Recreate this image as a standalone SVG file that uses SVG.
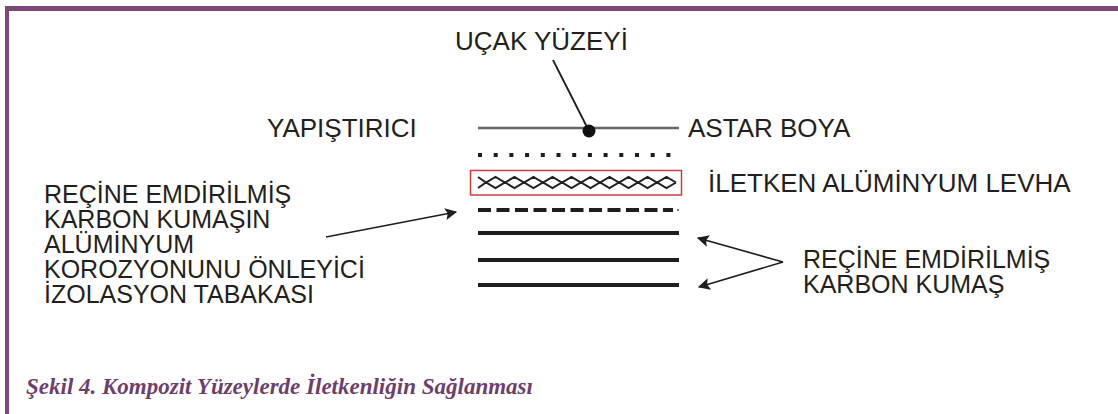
<svg xmlns="http://www.w3.org/2000/svg" width="1118" height="414" viewBox="0 0 1118 414">
<style>
.t{font-family:"Liberation Sans",Arial,sans-serif;font-size:26px;fill:#231f20}
.s{font-size:25px}
.cap{font-family:"Liberation Serif","Times New Roman",serif;font-size:23px;font-weight:bold;font-style:italic;fill:#6e3f6e}
.ln{stroke:#1e1e1e;stroke-width:4;fill:none}
.ar{stroke:#1e1e1e;stroke-width:1.6;fill:none}
</style>
<defs>
<marker id="ah" viewBox="0 0 10 10" refX="9" refY="5" markerWidth="12" markerHeight="12" markerUnits="userSpaceOnUse" orient="auto">
<path d="M0,0 L10,5 L0,10 L2,5 Z" fill="#1e1e1e"/>
</marker>
</defs>
<rect width="1118" height="414" fill="#fff"/>
<g id="frame">
<rect x="5" y="6" width="1113" height="5" fill="#7b4a7b"/>
<rect x="5" y="6" width="4" height="408" fill="#7b4a7b"/>
</g>
<g id="layers">
<g id="surface"><line x1="478" y1="128" x2="679" y2="128" stroke="#666" stroke-width="2.5"/></g>
<g id="adhesive"><line x1="478" y1="155" x2="672" y2="155" stroke="#1e1e1e" stroke-width="4" stroke-dasharray="4 11.7"/></g>
<g id="mesh">
<rect x="470.5" y="170.5" width="211" height="24.5" fill="none" stroke="#c9403f" stroke-width="1.5"/>
<path d="M478,177 L486,182.5 L495.5,177 L505,182.5 L514.5,177 L524,182.5 L533.5,177 L543,182.5 L552.5,177 L562,182.5 L571.5,177 L581,182.5 L590.5,177 L600,182.5 L609.5,177 L619,182.5 L628.5,177 L638,182.5 L647.5,177 L657,182.5 L666.5,177 L676,182.5" fill="none" stroke="#222" stroke-width="2"/>
<path d="M478,188 L486,182.5 L495.5,188 L505,182.5 L514.5,188 L524,182.5 L533.5,188 L543,182.5 L552.5,188 L562,182.5 L571.5,188 L581,182.5 L590.5,188 L600,182.5 L609.5,188 L619,182.5 L628.5,188 L638,182.5 L647.5,188 L657,182.5 L666.5,188 L676,182.5" fill="none" stroke="#222" stroke-width="2"/>
</g>
<g id="isolation"><line x1="478" y1="210" x2="673" y2="210" class="ln" stroke-dasharray="13 5.5"/><circle cx="678" cy="210" r="1" fill="#555"/></g>
<g id="fabric">
<line x1="478" y1="233" x2="679" y2="233" class="ln"/>
<line x1="478" y1="260" x2="679" y2="260" class="ln"/>
<line x1="478" y1="285" x2="679" y2="285" class="ln"/>
</g>
</g>
<g id="connectors">
<line x1="553" y1="60" x2="589" y2="131" stroke="#1e1e1e" stroke-width="1.8"/>
<circle cx="589" cy="131" r="6.5" fill="#111"/>
<line x1="326" y1="237" x2="456" y2="212" class="ar" marker-end="url(#ah)"/>
<line x1="783" y1="262" x2="698" y2="238" class="ar" marker-end="url(#ah)"/>
<line x1="783" y1="262" x2="699" y2="287" class="ar" marker-end="url(#ah)"/>
</g>
<g id="label-ucak"><text class="t" x="455" y="50">UÇAK YÜZEYİ</text></g>
<g id="label-yapistirici"><text class="t" x="267" y="137">YAPIŞTIRICI</text></g>
<g id="label-astar"><text class="t" x="688" y="137">ASTAR BOYA</text></g>
<g id="label-iletken"><text class="t" x="708" y="192">İLETKEN ALÜMİNYUM LEVHA</text></g>
<g id="label-izolasyon">
<text class="t s" x="44" y="203">REÇİNE EMDİRİLMİŞ</text>
<text class="t s" x="44" y="228">KARBON KUMAŞIN</text>
<text class="t s" x="44" y="253">ALÜMİNYUM</text>
<text class="t s" x="44" y="278">KOROZYONUNU ÖNLEYİCİ</text>
<text class="t s" x="44" y="303">İZOLASYON TABAKASI</text>
</g>
<g id="label-karbon">
<text class="t s" x="803" y="268">REÇİNE EMDİRİLMİŞ</text>
<text class="t s" x="803" y="293">KARBON KUMAŞ</text>
</g>
<g id="caption"><text class="cap" x="26" y="394">Şekil 4. Kompozit Yüzeylerde İletkenliğin Sağlanması</text></g>
</svg>
